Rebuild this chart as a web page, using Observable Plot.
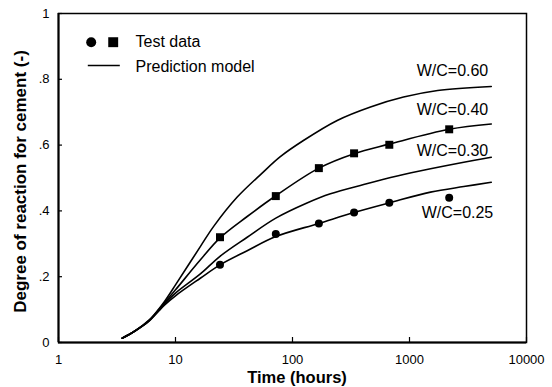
<!DOCTYPE html>
<html>
<head>
<meta charset="utf-8">
<script src="https://cdn.jsdelivr.net/npm/d3@7"></script>
<script src="https://cdn.jsdelivr.net/npm/@observablehq/plot@0.6"></script>
<style>
  html, body { margin: 0; padding: 0; background: white; }
  #chart { width: 552px; height: 387px; }
</style>
</head>
<body>
<div id="chart"></div>
<script>
// ---- data ----
const xTicks = [1, 10, 100, 1000, 10000];
const xTickLabels = ["1", "10", "100", "1000", "10000"];
const yTicks = [0, 0.2, 0.4, 0.6, 0.8, 1];
const yTickLabels = ["0", ".2", ".4", ".6", ".8", "1"];

const curveLabels = ["W/C=0.60", "W/C=0.40", "W/C=0.30", "W/C=0.25"];

const time60 = [3.5, 4.5, 5.9, 7.2, 8, 10, 16.4, 21.2, 33.7, 55, 78.7, 124, 241, 464, 889, 1740, 5000];
const deg60  = [0.013, 0.035, 0.067, 0.102, 0.123, 0.175, 0.293, 0.353, 0.442, 0.515, 0.565, 0.614, 0.675, 0.716, 0.746, 0.766, 0.778];

const time40 = [3.5, 4.5, 5.9, 7.2, 8, 10, 16.4, 24, 41, 72, 168, 336, 672, 2184, 5000];
const deg40  = [0.013, 0.035, 0.066, 0.100, 0.119, 0.160, 0.252, 0.318, 0.383, 0.446, 0.530, 0.574, 0.603, 0.648, 0.664];

const time30 = [3.5, 4.5, 5.9, 7.2, 8, 10, 16.4, 24, 41, 72, 133, 211, 406, 785, 1512, 2911, 5000];
const deg30  = [0.013, 0.035, 0.065, 0.098, 0.116, 0.150, 0.209, 0.262, 0.320, 0.378, 0.424, 0.452, 0.480, 0.506, 0.528, 0.548, 0.563];

const time25 = [3.5, 4.5, 5.9, 7.2, 8, 10, 16.4, 24, 41, 72, 168, 334, 679, 1512, 2911, 5000];
const deg25  = [0.013, 0.035, 0.064, 0.096, 0.113, 0.142, 0.196, 0.236, 0.279, 0.322, 0.362, 0.395, 0.425, 0.457, 0.474, 0.487];

const testTimes = [24, 72, 168, 336, 672, 2184];
const testSquares40 = [0.320, 0.445, 0.530, 0.575, 0.601, 0.648];
const testCircles25 = [0.236, 0.330, 0.362, 0.395, 0.425, 0.440];

const legendLabels = ["Test data", "Prediction model"];
const xTitle = "Time (hours)";
const yTitle = "Degree of reaction for cement (-)";

// ---- tables built from the arrays ----
const curveTimes = [time60, time40, time30, time25];
const curveDegs = [deg60, deg40, deg30, deg25];
const curveRows = curveLabels.flatMap((label, k) =>
  curveTimes[k].map((t, i) => ({series: label, time: t, degree: curveDegs[k][i]})));
const lastPoints = curveLabels.map((label, k) => ({
  series: label,
  time: curveTimes[k][curveTimes[k].length - 1],
  degree: curveDegs[k][curveDegs[k].length - 1]
}));
const squareRows = testTimes.map((t, i) => ({time: t, degree: testSquares40[i]}));
const circleRows = testTimes.map((t, i) => ({time: t, degree: testCircles25[i]}));

const FONT = "'Liberation Sans', Arial, Helvetica, sans-serif";
const labelOffsets = [[-3, -15.5], [-3, -14.5], [-3, -6], [2, 31]];

const lineSymbol = {
  draw(context) { context.moveTo(-16, 0); context.lineTo(16, 0); }
};

const chart = Plot.plot({
  width: 552,
  height: 387,
  marginLeft: 58,
  marginRight: 26,
  marginTop: 13,
  marginBottom: 45,
  x: {type: "log", domain: [1, 10000]},
  y: {domain: [0, 1]},
  style: {fontFamily: FONT, fontSize: "13px", background: "white", color: "black", overflow: "visible"},
  marks: [
    Plot.axisX({ticks: xTicks, tickFormat: d => xTickLabels[xTicks.indexOf(d)], tickSize: -5, tickPadding: 17, label: null, fontSize: 13, strokeWidth: 1.2}),
    Plot.axisY({ticks: yTicks, tickFormat: d => yTickLabels[yTicks.indexOf(d)], tickSize: -4, tickPadding: 13, label: null, fontSize: 13, strokeWidth: 1.2}),
    Plot.frame({stroke: "black", strokeWidth: 1.5}),
    Plot.ruleX([xTicks[0]], {stroke: "black", strokeWidth: 2}),
    Plot.ruleY([yTicks[0]], {stroke: "black", strokeWidth: 2}),
    Plot.line(curveRows, {x: "time", y: "degree", z: "series", curve: "catmull-rom", stroke: "black", strokeWidth: 1.6}),
    Plot.dot(squareRows, {x: "time", y: "degree", symbol: "square", r: 4.5, fill: "black", stroke: "none"}),
    Plot.dot(circleRows, {x: "time", y: "degree", symbol: "circle", r: 4, fill: "black", stroke: "none"}),
    ...lastPoints.map((p, k) => Plot.text([p], {
      x: "time", y: "degree", text: "series", textAnchor: "end", lineAnchor: "middle",
      dx: labelOffsets[k][0], dy: labelOffsets[k][1], fontSize: 16, fill: "black"
    })),
    // legend
    Plot.dot([legendLabels[0]], {frameAnchor: "top-left", dx: 32.7, dy: 28.7, r: 5, fill: "black", symbol: "circle"}),
    Plot.dot([legendLabels[0]], {frameAnchor: "top-left", dx: 54.7, dy: 28.7, r: 5.6, fill: "black", symbol: "square"}),
    Plot.dot([legendLabels[1]], {frameAnchor: "top-left", dx: 45.3, dy: 52, r: 5, stroke: "black", strokeWidth: 1.4, fill: "none", symbol: lineSymbol}),
    Plot.text([legendLabels[0]], {frameAnchor: "top-left", dx: 77, dy: 28.5, textAnchor: "start", lineAnchor: "middle", fontSize: 16}),
    Plot.text([legendLabels[1]], {frameAnchor: "top-left", dx: 77, dy: 53, textAnchor: "start", lineAnchor: "middle", fontSize: 16}),
    // axis titles
    Plot.text([xTitle], {frameAnchor: "bottom", dx: 4.5, dy: 35, textAnchor: "middle", lineAnchor: "middle", fontSize: 16.5, fontWeight: "bold"}),
    Plot.text([yTitle], {frameAnchor: "left", dx: -38, dy: 3.5, rotate: -90, textAnchor: "middle", lineAnchor: "middle", fontSize: 17, fontWeight: "bold"})
  ]
});
document.getElementById("chart").appendChild(chart);
</script>
</body>
</html>
